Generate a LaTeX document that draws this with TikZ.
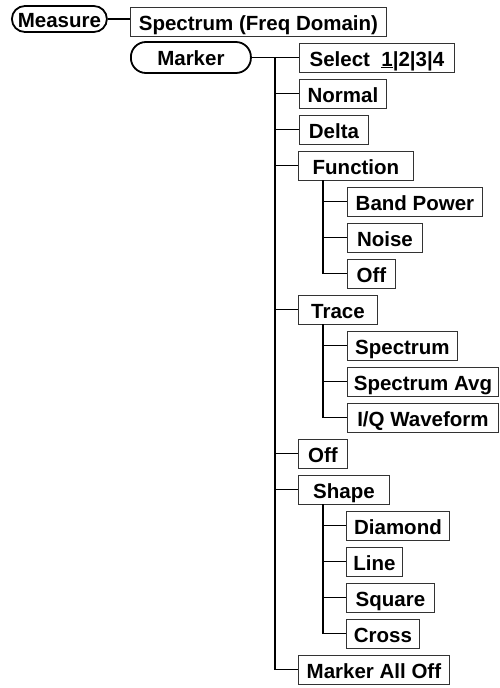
\documentclass[tikz,border=0pt]{standalone}
\usepackage{fontspec}
\setmainfont{Liberation Sans}
\begin{document}
\begin{tikzpicture}[x=1pt, y=-1pt,
    font=\fontsize{20.5}{24}\selectfont\bfseries,
    key/.style={draw, line width=1.8pt, inner sep=0pt, minimum height=#1, anchor=west, rounded corners=13pt, text height=16.5pt, text depth=0pt},
    menubox/.style={draw=black!80, line width=0.9pt, inner sep=0pt, minimum height=29pt, minimum width=#1, anchor=west, text height=17pt, text depth=0pt},
    branch/.style={line width=1.2pt}]
\useasboundingbox (0,0) rectangle (499,688);
% hard keys
\node[key=26pt, minimum width=95pt] (Measure) at (11,19) {Measure};
\node[key=31pt, minimum width=120pt, rounded corners=15pt] (Marker) at (130,57.5) {Marker};
% menu boxes
\node[menubox=256pt] (Spectrum) at (130,21.5) {Spectrum (Freq Domain)};
\node[menubox=155pt] (Select) at (299,57.5) {Select~~\underline{1}|2|3|4};
\node[menubox=87pt] (Normal) at (299,93.5) {Normal};
\node[menubox=69pt] (Delta) at (299,129.5) {Delta};
\node[menubox=115pt] (Function) at (298,165.5) {Function};
\node[menubox=135pt] (BandPower) at (347,201.5) {Band Power};
\node[menubox=75pt] (Noise) at (347,237.5) {Noise};
\node[menubox=48pt] (FuncOff) at (347,273.5) {Off};
\node[menubox=79pt] (Trace) at (298,309.5) {Trace};
\node[menubox=110pt] (TrSpectrum) at (347,345.5) {Spectrum};
\node[menubox=151pt] (TrSpecAvg) at (347,381.5) {Spectrum Avg};
\node[menubox=151pt] (TrIQ) at (347,417.5) {I/Q Waveform};
\node[menubox=49pt] (MarkerOff) at (298,453.5) {Off};
\node[menubox=91pt] (Shape) at (298,489.5) {Shape};
\node[menubox=103pt] (Diamond) at (346,525.5) {Diamond};
\node[menubox=56pt] (Line) at (346,561.5) {Line};
\node[menubox=88pt] (Square) at (346,597.5) {Square};
\node[menubox=73pt] (Cross) at (346,633.5) {Cross};
\node[menubox=151pt] (AllOff) at (298,669.5) {Marker All Off};
% trunks
\coordinate (mtrunk) at (275,57.5);
\coordinate (ftrunk) at (323,180);
\coordinate (ttrunk) at (323,324);
\coordinate (strunk) at (323,504);
% connectors
\draw[branch] (Measure.east) -- (Measure.east -| Spectrum.west);
\draw[branch] (Marker.east) -- (Select.west);
\foreach \n in {Normal,Delta,Function,Trace,MarkerOff,Shape,AllOff}
  \draw[branch] (mtrunk) |- (\n.west);
\foreach \n in {BandPower,Noise,FuncOff}
  \draw[branch] (ftrunk) |- (\n.west);
\foreach \n in {TrSpectrum,TrSpecAvg,TrIQ}
  \draw[branch] (ttrunk) |- (\n.west);
\foreach \n in {Diamond,Line,Square,Cross}
  \draw[branch] (strunk) |- (\n.west);
\end{tikzpicture}
\end{document}
